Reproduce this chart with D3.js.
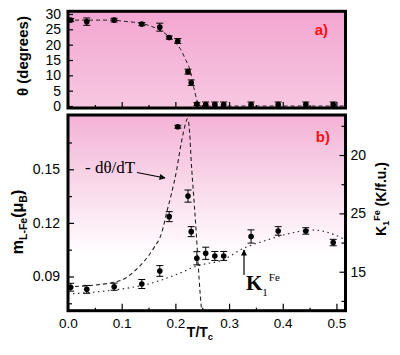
<!DOCTYPE html>
<html><head><meta charset="utf-8">
<script src="https://cdn.jsdelivr.net/npm/d3@7"></script>
<style>body{margin:0;background:#fff;} svg{display:block;}</style>
</head><body>
<svg id="c" width="400" height="355"></svg>
<script>
// ---- data ----
const T        = [0.005, 0.035, 0.086, 0.1375, 0.171, 0.1885, 0.2045, 0.2235, 0.2295, 0.240, 0.2565, 0.2735, 0.290, 0.341, 0.3915, 0.443, 0.494];
const theta    = [28.0, 27.5, 28.0, 26.7, 25.7, 22.3, 21.2, 11.2, 7.6, 0.6, 0.5, 0.5, 0.5, 0.5, 0.5, 0.5, 0.5];
const thetaErr = [0.5, 1.2, 0.6, 0.5, 1.3, 0.5, 0.8, 0.8, 0.9, 0.5, 0.8, 0.8, 0.8, 0.8, 0.8, 0.8, 0.8];
const mLFe     = [0.0840, 0.0828, 0.0843, 0.0858, 0.0931, 0.1235, 0.1738, 0.1350, 0.1151, 0.1002, 0.1030, 0.1015, 0.1015, 0.1124, 0.1155, 0.1155, 0.1090];
const mErr     = [0.0022, 0.0022, 0.0020, 0.0025, 0.0030, 0.0028, 0.0008, 0.0034, 0.0028, 0.0037, 0.0034, 0.0025, 0.0025, 0.0037, 0.0024, 0.0018, 0.0018];

const thetaFitT = [0, 0.05, 0.086, 0.1, 0.13, 0.15, 0.17, 0.19, 0.2, 0.21, 0.218, 0.228, 0.234, 0.24, 0.245, 0.517];
const thetaFit  = [28.0, 28.0, 28.0, 27.7, 27.1, 26.3, 24.8, 22.4, 20.6, 18.4, 15.5, 11.2, 6.3, 2.0, 0, 0];

const dThetaT = [0, 0.05, 0.1, 0.122, 0.1405, 0.159, 0.175, 0.184, 0.1935, 0.2028, 0.209, 0.2152, 0.2227, 0.2265, 0.2296, 0.234, 0.2384, 0.2422, 0.2464, 0.2495];
const dThetaM = [0.0843, 0.0852, 0.0880, 0.0925, 0.0981, 0.1056, 0.1149, 0.1261, 0.1373, 0.1503, 0.1615, 0.1709, 0.1783, 0.1709, 0.1541, 0.1354, 0.1167, 0.0981, 0.0795, 0.0690];

const k1FitT = [0, 0.05, 0.1, 0.15, 0.2, 0.24, 0.29, 0.327, 0.371, 0.414, 0.458, 0.489, 0.511, 0.517];
const k1Fit  = [13.09, 13.26, 13.52, 13.95, 14.72, 15.49, 16.05, 17.01, 17.72, 18.29, 18.57, 18.29, 17.86, 17.72];

const xMajor = [0, 0.1, 0.2, 0.3, 0.4, 0.5];
const xMinor = [0.05, 0.15, 0.25, 0.35, 0.45];
const thetaTicks = [0, 5, 10, 15, 20, 25, 30];
const mMajor = [0.09, 0.12, 0.15];
const mMinor = [0.075, 0.105, 0.135, 0.165];
const kMajor = [15, 20, 25];
const kMinor = [12.5, 17.5, 22.5, 27.5];
const kTickLabels = {15: "15", 20: "25", 25: "20"}; // labels as printed in the figure

// ---- layout ----
const svg = d3.select("#c");
const L = 68, R = 345.5;
const topP = {t: 11.3, b: 108};
const botP = {t: 115, b: 310.7};

const x = d3.scaleLinear().domain([0, 0.5169]).range([L, R]);
const yT = d3.scaleLinear().domain([-0.652, 30.87]).range([topP.b, topP.t]);
const yM = d3.scaleLinear().domain([0.07086, 0.18038]).range([botP.b, botP.t]);
const yK = d3.scaleLinear().domain([11.66, 28.43]).range([botP.b, botP.t]);

const defs = svg.append("defs");
const g1 = defs.append("linearGradient").attr("id","gTop").attr("x1",0).attr("y1",0).attr("x2",0).attr("y2",1);
g1.append("stop").attr("offset","0%").attr("stop-color","#f2a6d0");
g1.append("stop").attr("offset","100%").attr("stop-color","#f8c8e1");
const g2 = defs.append("linearGradient").attr("id","gBot").attr("x1",0).attr("y1",0).attr("x2",0).attr("y2",1);
g2.append("stop").attr("offset","0%").attr("stop-color","#f4b2d6");
g2.append("stop").attr("offset","72%").attr("stop-color","#ffffff");
g2.append("stop").attr("offset","100%").attr("stop-color","#ffffff");
defs.append("clipPath").attr("id","clipTop").append("rect")
  .attr("x",L).attr("y",topP.t).attr("width",R-L).attr("height",topP.b-topP.t);
defs.append("clipPath").attr("id","clipBot").append("rect")
  .attr("x",L).attr("y",botP.t).attr("width",R-L).attr("height",botP.b-botP.t);
defs.append("marker").attr("id","arr").attr("viewBox","0 0 10 10").attr("refX",9).attr("refY",5)
  .attr("markerWidth",7).attr("markerHeight",6).attr("orient","auto").attr("markerUnits","userSpaceOnUse")
  .append("path").attr("d","M0,0 L10,5 L0,10 Z").attr("fill","#000");

// backgrounds
svg.append("rect").attr("x",L).attr("y",topP.t).attr("width",R-L).attr("height",topP.b-topP.t).attr("fill","url(#gTop)");
svg.append("rect").attr("x",L).attr("y",botP.t).attr("width",R-L).attr("height",botP.b-botP.t).attr("fill","url(#gBot)");

const font = "'Liberation Sans', Arial, Helvetica, sans-serif";
const serif = "'Liberation Serif', 'Times New Roman', serif";

function styleAxis(g, size) {
  g.select(".domain").remove();
  g.selectAll("line").attr("stroke","#000").attr("stroke-width",1.2);
  g.selectAll("text").attr("font-family",font).attr("font-size",size).attr("fill","#000");
}

// ---- top panel axes ----
svg.append("g").attr("transform",`translate(${L},0)`)
  .call(d3.axisLeft(yT).tickValues(thetaTicks).tickSize(-5).tickPadding(7).tickFormat(d3.format("d")))
  .call(g => styleAxis(g, 14));
svg.append("g").attr("transform",`translate(0,${topP.b})`)
  .call(d3.axisBottom(x).tickValues(xMajor).tickSize(-6).tickFormat(""))
  .call(g => styleAxis(g, 13));
svg.append("g").attr("transform",`translate(0,${topP.b})`)
  .call(d3.axisBottom(x).tickValues(xMinor).tickSize(-3).tickFormat(""))
  .call(g => styleAxis(g, 13));

// ---- bottom panel axes ----
svg.append("g").attr("transform",`translate(0,${botP.b})`)
  .call(d3.axisBottom(x).tickValues(xMajor).tickSize(-7).tickPadding(8).tickFormat(d3.format(".1f")))
  .call(g => styleAxis(g, 13.5));
svg.append("g").attr("transform",`translate(0,${botP.b})`)
  .call(d3.axisBottom(x).tickValues(xMinor).tickSize(-3).tickFormat(""))
  .call(g => styleAxis(g, 13));
svg.append("g").attr("transform",`translate(${L},0)`)
  .call(d3.axisLeft(yM).tickValues(mMajor).tickSize(-6).tickPadding(8).tickFormat(d3.format(".2f")))
  .call(g => styleAxis(g, 14));
svg.append("g").attr("transform",`translate(${L},0)`)
  .call(d3.axisLeft(yM).tickValues(mMinor).tickSize(-4).tickFormat(""))
  .call(g => styleAxis(g, 14));
svg.append("g").attr("transform",`translate(${R},0)`)
  .call(d3.axisRight(yK).tickValues(kMajor).tickSize(-6).tickPadding(5).tickFormat(d => kTickLabels[d]))
  .call(g => styleAxis(g, 14));
svg.append("g").attr("transform",`translate(${R},0)`)
  .call(d3.axisRight(yK).tickValues(kMinor).tickSize(-4).tickFormat(""))
  .call(g => styleAxis(g, 14));

// ---- curves ----
const lineTheta = d3.line().x((d,i)=>x(thetaFitT[i])).y(d=>yT(d)).curve(d3.curveMonotoneX);
svg.append("path").attr("clip-path","url(#clipTop)").attr("d", lineTheta(thetaFit))
  .attr("fill","none").attr("stroke","#222").attr("stroke-width",1).attr("stroke-dasharray","4,3");

const lineD = d3.line().x((d,i)=>x(dThetaT[i])).y(d=>yM(d)).curve(d3.curveMonotoneX);
svg.append("path").attr("clip-path","url(#clipBot)").attr("d", lineD(dThetaM))
  .attr("fill","none").attr("stroke","#222").attr("stroke-width",1.1).attr("stroke-dasharray","4,3");

const lineK = d3.line().x((d,i)=>x(k1FitT[i])).y(d=>yK(d)).curve(d3.curveMonotoneX);
svg.append("path").attr("clip-path","url(#clipBot)").attr("d", lineK(k1Fit))
  .attr("fill","none").attr("stroke","#222").attr("stroke-width",1.1).attr("stroke-dasharray","1.5,3.5");

// ---- data points with error bars ----
function points(vals, errs, ys) {
  const g = svg.append("g");
  const cap = 3.5;
  vals.forEach((v,i) => {
    const cx = x(T[i]), y0 = ys(v - errs[i]), y1 = ys(v + errs[i]);
    g.append("line").attr("x1",cx).attr("x2",cx).attr("y1",y0).attr("y2",y1).attr("stroke","#000").attr("stroke-width",1);
    g.append("line").attr("x1",cx-cap).attr("x2",cx+cap).attr("y1",y0).attr("y2",y0).attr("stroke","#000").attr("stroke-width",1);
    g.append("line").attr("x1",cx-cap).attr("x2",cx+cap).attr("y1",y1).attr("y2",y1).attr("stroke","#000").attr("stroke-width",1);
    g.append("circle").attr("cx",cx).attr("cy",ys(v)).attr("r",2.8).attr("fill","#000");
  });
}
points(theta, thetaErr, yT);
points(mLFe, mErr, yM);

// ---- frames ----
svg.append("rect").attr("x",L).attr("y",topP.t).attr("width",R-L).attr("height",topP.b-topP.t)
  .attr("fill","none").attr("stroke","#000").attr("stroke-width",3);
svg.append("rect").attr("x",L).attr("y",botP.t).attr("width",R-L).attr("height",botP.b-botP.t)
  .attr("fill","none").attr("stroke","#000").attr("stroke-width",3);

// ---- annotations ----
svg.append("text").attr("x",328).attr("y",35).attr("text-anchor","end").attr("font-family",font)
  .attr("font-weight","bold").attr("font-size",15).attr("fill","#ff1010").text("a)");
svg.append("text").attr("x",330).attr("y",142).attr("text-anchor","end").attr("font-family",font)
  .attr("font-weight","bold").attr("font-size",15).attr("fill","#ff1010").text("b)");

svg.append("text").attr("x",85).attr("y",173).attr("font-family",serif).attr("font-size",17)
  .attr("fill","#000").text("- dθ/dT");
svg.append("line").attr("x1",137).attr("y1",172.5).attr("x2",165).attr("y2",178)
  .attr("stroke","#000").attr("stroke-width",1.2).attr("marker-end","url(#arr)");

svg.append("line").attr("x1",244).attr("y1",275).attr("x2",244).attr("y2",250)
  .attr("stroke","#000").attr("stroke-width",1.2).attr("marker-end","url(#arr)");
const kt = svg.append("text").attr("x",246).attr("y",290).attr("font-family",serif).attr("fill","#000");
kt.append("tspan").attr("font-size",21).attr("font-weight","bold").text("K");
kt.append("tspan").attr("font-size",11).attr("dy",6).text("1");
kt.append("tspan").attr("font-size",11).attr("dx",1).attr("dy",-15).text("Fe");

// axis titles
svg.append("text").attr("transform","translate(28,56) rotate(-90)").attr("text-anchor","middle")
  .attr("font-family",font).attr("font-weight","bold").attr("font-size",15).attr("fill","#000")
  .text("θ (degrees)");

const mt = svg.append("text").attr("transform","translate(23,222) rotate(-90)").attr("text-anchor","middle")
  .attr("font-family",font).attr("font-weight","bold").attr("fill","#000");
mt.append("tspan").attr("font-size",16).text("m");
mt.append("tspan").attr("font-size",10.5).attr("dy",4).text("L-Fe");
mt.append("tspan").attr("font-size",16).attr("dy",-4).text("(μ");
mt.append("tspan").attr("font-size",10.5).attr("dy",4).text("B");
mt.append("tspan").attr("font-size",16).attr("dy",-4).text(")");

const rt = svg.append("text").attr("transform","translate(386,199) rotate(-90)").attr("text-anchor","middle")
  .attr("font-family",font).attr("font-weight","bold").attr("fill","#000");
rt.append("tspan").attr("font-size",14).text("K");
rt.append("tspan").attr("font-size",9).attr("dy",3).text("1");
rt.append("tspan").attr("font-size",9).attr("dy",-9).text("Fe");
rt.append("tspan").attr("font-size",14).attr("dy",6).text(" (K/f.u.)");

const xt = svg.append("text").attr("x",200).attr("y",337).attr("text-anchor","middle")
  .attr("font-family",font).attr("font-weight","bold").attr("fill","#000");
xt.append("tspan").attr("font-size",14).text("T/T");
xt.append("tspan").attr("font-size",9.5).attr("dy",3).text("c");
</script>
</body></html>
